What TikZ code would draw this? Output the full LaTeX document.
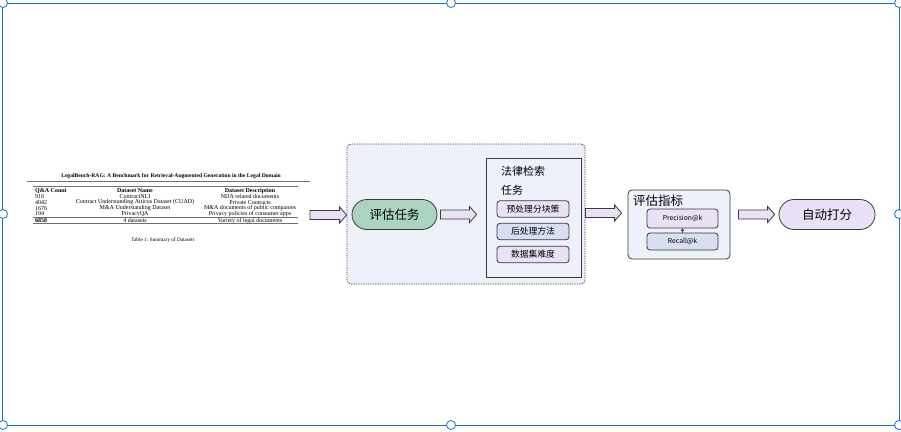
\documentclass[tikz,border=0pt]{standalone}
\usepackage{fontspec}
\setmainfont{Liberation Serif}
\newfontfamily\cjk{Noto Sans CJK SC}
\usetikzlibrary{calc,arrows.meta}

\definecolor{selblue}{HTML}{1A6FE0}
\definecolor{edge}{HTML}{3A3A3A}
\definecolor{lilac}{HTML}{EBE1F7}
\definecolor{paleblue}{HTML}{D8DFF3}
\definecolor{panel}{HTML}{EEF1FA}
\definecolor{sage}{HTML}{AAD4BF}
\definecolor{rulegray}{HTML}{707070}

\tikzset{
  tabtxt/.style={inner sep=0pt, font=\fontsize{6}{6}\selectfont},
  tabhead/.style={tabtxt, font=\bfseries\fontsize{6}{6}\selectfont},
  container/.style={draw=edge, fill=panel, rounded corners=4pt, line width=0.8pt,
    dash pattern=on 1.2pt off 1.2pt, minimum width=238pt, minimum height=140pt, inner sep=0pt},
  stadium/.style={draw=edge, line width=0.8pt, rounded corners=15pt,
    minimum height=30pt, inner sep=0pt, font=\cjk\fontsize{12.5}{14}\selectfont},
  lawbox/.style={draw=edge, fill=panel, line width=0.9pt, minimum width=95pt,
    minimum height=119pt, inner sep=0pt},
  metricbox/.style={draw=edge, fill=panel, line width=0.8pt, rounded corners=4pt,
    minimum width=102pt, minimum height=69pt, inner sep=0pt},
  itembox/.style={draw=edge, line width=0.8pt, rounded corners=3pt, minimum width=72pt,
    minimum height=16.5pt, inner sep=0pt, font=\cjk\fontsize{8.8}{10}\selectfont},
  kbox/.style={draw=edge, line width=0.8pt, rounded corners=3pt, minimum width=71pt,
    inner sep=0pt, font=\cjk\fontsize{6.8}{8}\selectfont},
  blockarr/.style={draw=edge, fill=lilac, line width=0.8pt, line join=miter},
  handle/.style={draw=selblue, fill=white, line width=0.8pt}
}

% hollow block arrow from #1 to #2, drawn at the height of #1
\newcommand\blockarrow[2]{%
  \path[blockarr] let \p1=(#1), \p2=(#2) in
    ({\x1},{\y1+4.5pt}) -- ({\x2-7pt},{\y1+4.5pt}) -- ({\x2-7pt},{\y1+8pt}) --
    ({\x2},{\y1}) -- ({\x2-7pt},{\y1-8pt}) -- ({\x2-7pt},{\y1-4.5pt}) --
    ({\x1},{\y1-4.5pt}) -- cycle;}

\begin{document}
\begin{tikzpicture}[x=1pt,y=-1pt]
\useasboundingbox (0,0) rectangle (901,431);

% ---------- dataset table ----------
\node[tabhead, font=\bfseries\fontsize{5.6}{6}\selectfont] (ttitle) at (171,176)
  {LegalBench-RAG: A Benchmark for Retrieval-Augmented Generation in the Legal Domain};
\draw[rulegray, line width=0.6pt] (27,181.7) -- (310,181.7);
\draw[rulegray, line width=1.1pt] (33,186.7) -- (298,186.7);
\node[tabhead, anchor=west] (h1) at (35,191) {Q\&A Count};
\node[tabhead] (h2) at (135,191) {Dataset Name};
\node[tabhead] (h3) at (250,191) {Dataset Description};

\node[tabtxt, anchor=west] (c1) at (35,196.7) {916};
\node[tabtxt] (n1) at (135,196.7) {ContractNLI};
\node[tabtxt] (d1) at (250,196.7) {NDA related documents};
\node[tabtxt, anchor=west] (c2) at (35,202.5) {4042};
\node[tabtxt] (n2) at (135,202.5) {Contract Understanding Atticus Dataset (CUAD)};
\node[tabtxt] (d2) at (250,202.5) {Private Contracts};
\node[tabtxt, anchor=west] (c3) at (35,208.2) {1676};
\node[tabtxt] (n3) at (135,208.2) {M\&A Understanding Dataset};
\node[tabtxt] (d3) at (250,208.2) {M\&A documents of public companies};
\node[tabtxt, anchor=west] (c4) at (35,213.8) {194};
\node[tabtxt] (n4) at (135,213.8) {PrivacyQA};
\node[tabtxt] (d4) at (250,213.8) {Privacy policies of consumer apps};
\draw[rulegray, line width=1.1pt] (33,217.3) -- (298,217.3);
\node[tabhead, anchor=west] (c5) at (35,220.6) {6858};
\node[tabtxt] (n5) at (135,220.6) {4 datasets};
\node[tabtxt] (d5) at (250,220.6) {Variety of legal documents};
\draw[rulegray, line width=0.6pt] (33,223.6) -- (298,223.6);
\node[tabtxt, font=\fontsize{5.2}{6}\selectfont] (tcap) at (163,240) {Table 1: Summary of Datasets};
\coordinate (tblout) at (310,215);

% ---------- evaluation pipeline ----------
\node[container] (cont) at (466,214) {};
\node[stadium, fill=sage, minimum width=85pt] (task) at (394.5,214.5) {评估任务};

\node[lawbox] (law) at (533.5,217.5) {};
\node[anchor=north west, inner sep=0pt, align=left, font=\cjk\fontsize{11}{18.5}\selectfont]
  (lawtitle) at (501,166) {法律检索\\任务};
\node[itembox, fill=lilac] (pre) at (533,209) {预处理分块策};
\node[itembox, fill=paleblue] (post) at (533,231.5) {后处理方法};
\node[itembox, fill=lilac] (diff) at (533,254.5) {数据集难度};

\node[metricbox] (metric) at (679,224.5) {};
\node[anchor=west, inner sep=0pt, font=\cjk\fontsize{12.5}{14}\selectfont] (mtitle) at (633,200.5) {评估指标};
\node[kbox, fill=lilac, minimum height=19pt] (prec) at (682.5,218.5) {Precision@k};
\node[kbox, fill=paleblue, minimum height=17pt] (rec) at (682.5,241.5) {Recall@k};
\draw[edge, line width=0.6pt, -{Triangle[width=3.5pt,length=2.5pt]}] (rec.north) -- (prec.south);

\node[stadium, fill=lilac, minimum width=96pt] (score) at (827,214.5) {自动打分};

\blockarrow{tblout}{cont.west}
\blockarrow{$(task.east)+(3,0)$}{$(law.west)+(-9,0)$}
\blockarrow{$(cont.east)+(0,-1)$}{$(metric.west)+(-6,0)$}
\blockarrow{$(metric.east)+(8,-10)$}{$(score.west)+(-4,0)$}

% ---------- selection frame ----------
\draw[selblue, line width=1pt] (2.5,3) rectangle (899.5,425);
\foreach \hx/\hy [count=\i] in {3/3, 451/3, 899/3, 3/214, 899/214, 3/425, 451/425, 899/425}
  \node[handle, circle, minimum size=9pt, inner sep=0pt] (h-\i) at (\hx,\hy) {};
\end{tikzpicture}
\end{document}
